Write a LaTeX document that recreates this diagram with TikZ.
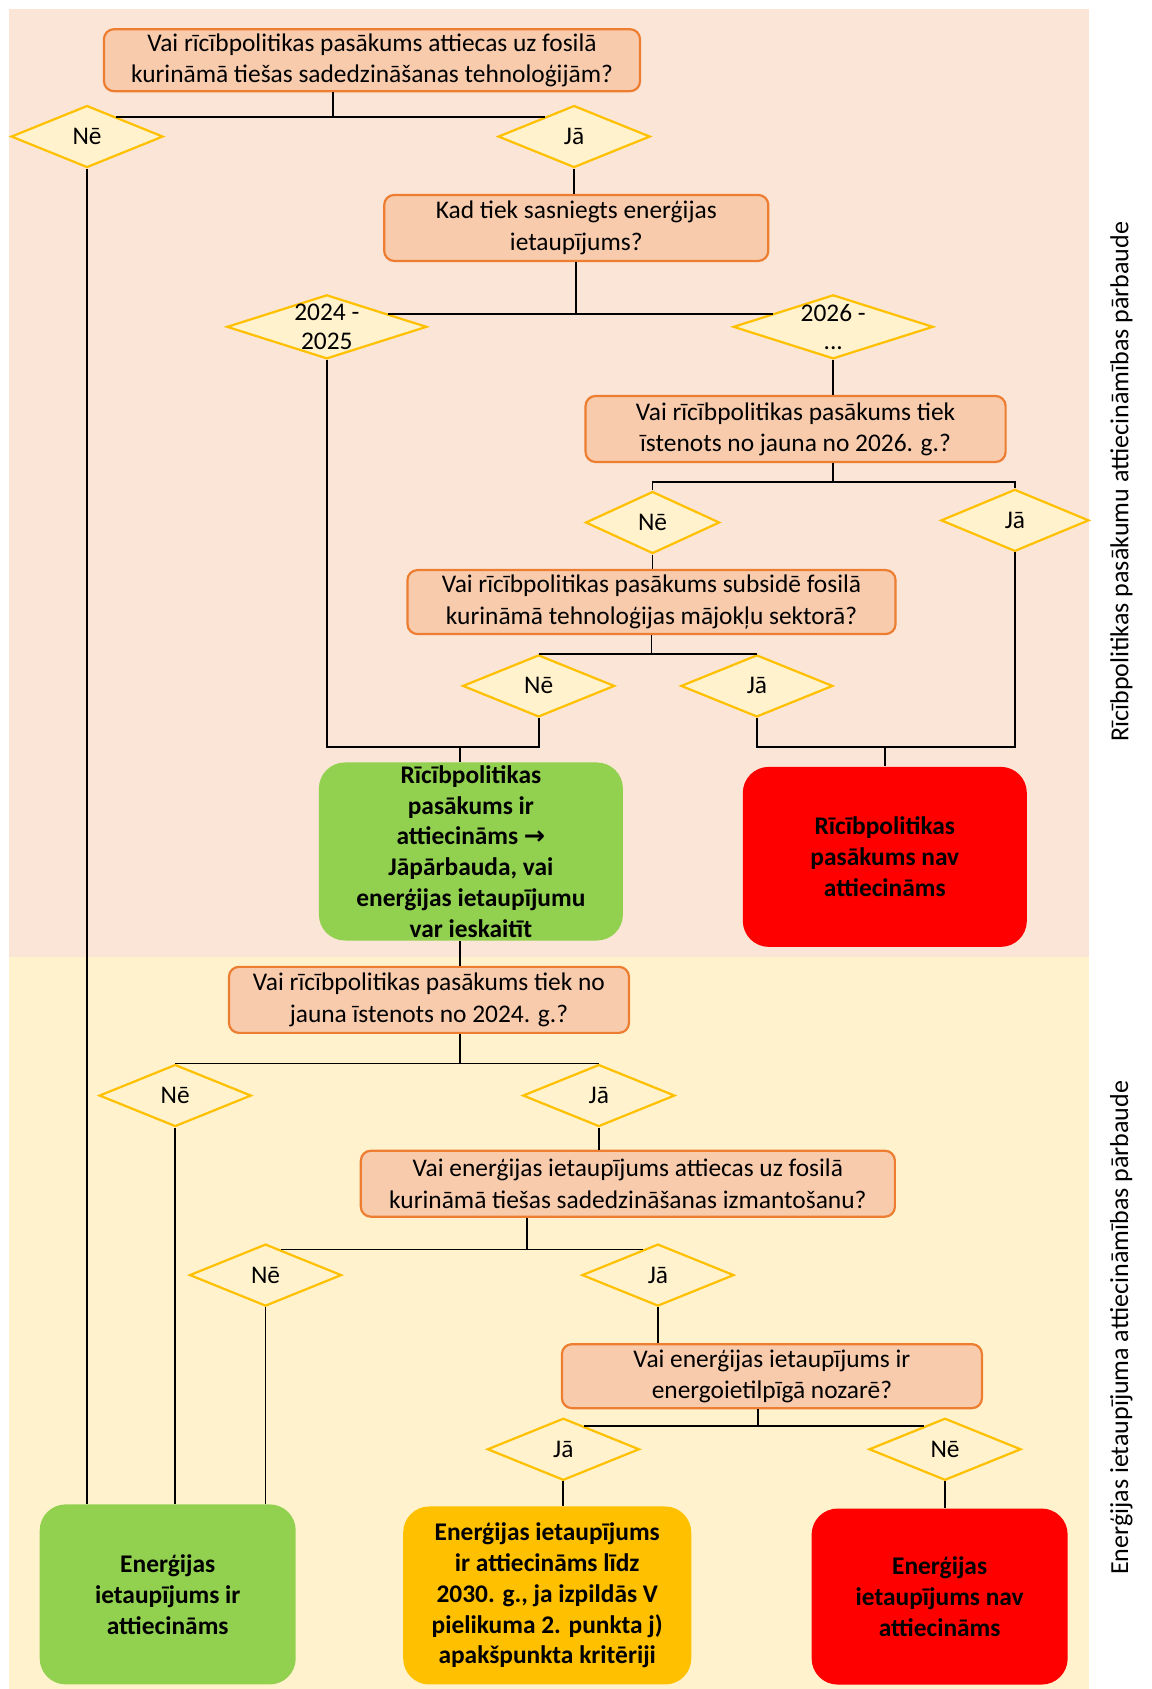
\documentclass[tikz,border=0pt]{standalone}
\usepackage{fontspec}
\setmainfont{Carlito}
\newfontfamily\arrowfont{DejaVu Sans}
\usetikzlibrary{shapes.geometric,calc}
\definecolor{bandtop}{HTML}{FBE5D6}
\definecolor{bandlow}{HTML}{FFF2CC}
\definecolor{qfill}{HTML}{F8CBAD}
\definecolor{qline}{HTML}{ED7D31}
\definecolor{dline}{HTML}{FFC000}
\definecolor{okgreen}{HTML}{92D050}
\definecolor{notred}{HTML}{FF0000}
\definecolor{amber}{HTML}{FFC000}
\begin{document}
\begin{tikzpicture}[x=0.5375pt,y=-0.5375pt,
 question/.style={rectangle,rounded corners=5pt,draw=qline,line width=1.1pt,fill=qfill,align=center,inner sep=1pt,font=\fontsize{12.7}{15.6}\selectfont},
 choice/.style={diamond,draw=dline,line width=1.1pt,fill=bandlow,inner sep=0pt,minimum width=76pt,minimum height=31pt,font=\fontsize{12.7}{14}\selectfont},
 result/.style={rectangle,rounded corners=13pt,inner sep=0pt,align=center,font=\bfseries\fontsize{12.7}{15.4}\selectfont},
 link/.style={line width=0.9pt,black}]

 %Background
 \useasboundingbox (0,0) rectangle (1071,1571);
 \fill[bandtop] (8,8) rectangle (1013,890);
 \fill[bandlow] (8,890) rectangle (1013,1571);

 \node[rotate=90,font=\fontsize{13}{14}\selectfont] (sideTop) at (1043,448) {Rīcībpolitikas pasākumu attiecināmības pārbaude};
 \node[rotate=90,font=\fontsize{13}{14}\selectfont] (sideLow) at (1043,1235) {Enerģijas ietaupījuma attiecināmības pārbaude};

 %Questions
 \node[question,minimum width=268pt,minimum height=31pt] (Q1) at (346,56) {Vai rīcībpolitikas pasākums attiecas uz fosilā\\kurināmā tiešas sadedzināšanas tehnoloģijām?};
 \node[question,minimum width=192pt,minimum height=33pt] (K) at (536,212) {Kad tiek sasniegts enerģijas\\ietaupījums?};
 \node[question,minimum width=210pt,minimum height=33pt] (Q3) at (740,399) {Vai rīcībpolitikas pasākums tiek\\īstenots no jauna no 2026. g.?};
 \node[question,minimum width=244pt,minimum height=32pt] (Q4) at (606,560) {Vai rīcībpolitikas pasākums subsidē fosilā\\kurināmā tehnoloģijas mājokļu sektorā?};
 \node[question,minimum width=200pt,minimum height=33pt] (Q5) at (399,930) {Vai rīcībpolitikas pasākums tiek no\\jauna īstenots no 2024. g.?};
 \node[question,minimum width=267pt,minimum height=33pt] (Q6) at (584,1101) {Vai enerģijas ietaupījums attiecas uz fosilā\\kurināmā tiešas sadedzināšanas izmantošanu?};
 \node[question,minimum width=210pt,minimum height=32pt] (Q7) at (718,1280) {Vai enerģijas ietaupījums ir\\energoietilpīgā nozarē?};

 %Choices
 \node[choice] (D1) at (81,127) {Nē};
 \node[choice] (D2) at (534,127) {Jā};
 \node[choice,minimum width=100pt,minimum height=32pt] (D3) at (304,304) {};
 \node[align=center,font=\fontsize{12.7}{14}\selectfont] (D3t) at (D3) {2024 -\\2025};
 \node[choice,minimum width=100pt,minimum height=32pt] (D4) at (775,304) {};
 \node[align=center,font=\fontsize{12.7}{14}\selectfont] (D4t) at (D4) {2026 -\\...};
 \node[choice,minimum width=67pt] (D5) at (607,486) {Nē};
 \node[choice,minimum width=74pt] (D6) at (944,484) {Jā};
 \node[choice] (D7) at (501,638) {Nē};
 \node[choice] (D8) at (704,638) {Jā};
 \node[choice] (D9) at (163,1019) {Nē};
 \node[choice] (D10) at (557,1019) {Jā};
 \node[choice] (D11) at (247,1186) {Nē};
 \node[choice] (D12) at (612,1186) {Jā};
 \node[choice] (D13) at (524,1348) {Jā};
 \node[choice] (D14) at (879,1348) {Nē};

 %Results
 \node[result,fill=okgreen,minimum width=152pt,minimum height=89pt] (G1) at (438,792) {Rīcībpolitikas\\pasākums ir\\attiecināms {\arrowfont\bfseries →}\\Jāpārbauda, vai\\enerģijas ietaupījumu\\var ieskaitīt};
 \node[result,fill=notred,minimum width=142pt,minimum height=90pt] (R1) at (823,797) {Rīcībpolitikas\\pasākums nav\\attiecināms};
 \node[result,fill=okgreen,minimum width=128pt,minimum height=90pt] (G2) at (156,1483) {Enerģijas\\ietaupījums ir\\attiecināms};
 \node[result,fill=amber,minimum width=144pt,minimum height=89pt] (A1) at (509,1484) {Enerģijas ietaupījums\\ir attiecināms līdz\\2030. g., ja izpildās V\\pielikuma 2. punkta j)\\apakšpunkta kritēriji};
 \node[result,fill=notred,minimum width=128pt,minimum height=88pt] (R2) at (874,1485) {Enerģijas\\ietaupījums nav\\attiecināms};

 %Coordinates
 \coordinate (s1) at (310,109);
 \coordinate (f2) at ($(D3.north)!.6!(D3.east)$);
 \coordinate (s3) at (775,448);
 \coordinate (m1) at (428,695);
 \coordinate (m2) at (823,695);
 \coordinate (s4) at (490,1163);
 \coordinate (s5) at (705,1327);

 %Connectors
 \draw[link] (s1 |- Q1.south) -- (s1);
 \draw[link] ($(D1.north)!.38!(D1.east)$) -- ($(D2.north)!.38!(D2.west)$);
 \draw[link] (D2.south) -- (D2.south |- K.north);
 \draw[link] (K.south) -- (K.south |- f2);
 \draw[link] (f2) -- ($(D4.north)!.6!(D4.west)$);
 \draw[link] (D4.south) -- (D4.south |- Q3.north);
 \draw[link] (s3 |- Q3.south) -- (s3);
 \draw[link] (D5.north) |- (s3) -| (D6.north);
 \draw[link] (D5.south) -- (D5.south |- Q4.north);
 \draw[link] (Q4.south) -- (Q4.south |- D7.north);
 \draw[link] (D7.north) -- (D8.north);
 \draw[link] (D3.south) |- (m1) -| (D7.south);
 \draw[link] (m1) -- (m1 |- G1.north);
 \draw[link] (D8.south) |- (m2) -| (D6.south);
 \draw[link] (m2) -- (m2 |- R1.north);

 \draw[link] (m1 |- G1.south) -- (m1 |- Q5.north);
 \draw[link] (m1 |- Q5.south) -- (m1 |- D9.north);
 \draw[link] (D9.north) -- (D10.north);
 \draw[link] (D10.south) -- (D10.south |- Q6.north);
 \draw[link] (s4 |- Q6.south) -- (s4);
 \draw[link] ($(D11.north)!.2!(D11.east)$) -- ($(D12.north)!.2!(D12.west)$);
 \draw[link] (D12.south) -- (D12.south |- Q7.north);
 \draw[link] (s5 |- Q7.south) -- (s5);
 \draw[link] ($(D13.north)!.27!(D13.east)$) -- ($(D14.north)!.27!(D14.west)$);
 \draw[link] (D13.south) -- (D13.south |- A1.north);
 \draw[link] (D14.south) -- (D14.south |- R2.north);
 \draw[link] (D1.south) -- (D1.south |- G2.north);
 \draw[link] (D9.south) -- (D9.south |- G2.north);
 \draw[link] (D11.south) -- (D11.south |- G2.north);

\end{tikzpicture}
\end{document}
